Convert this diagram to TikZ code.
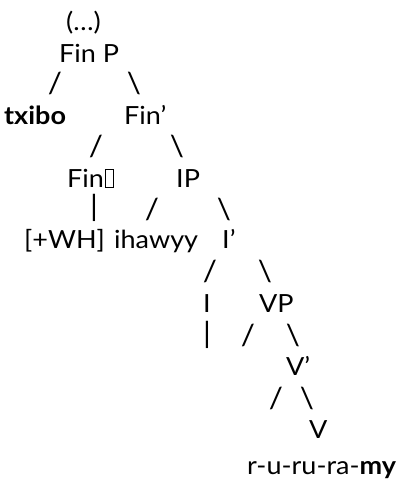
\documentclass[tikz,border=0pt]{standalone}
\usepackage{fontspec}
\setmainfont{Lato}[FakeStretch=1.08]
\newcommand{\tofubox}{{\fboxsep=0pt\fboxrule=0.7pt\hspace{1pt}\fbox{\rule{0pt}{17.5pt}\hspace{7.5pt}}}}
\begin{document}
\begin{tikzpicture}[x=1pt,y=-1pt,
  every node/.style={font=\fontsize{25}{30}\selectfont, inner sep=0pt, text=black},
  lbl/.style={anchor=base west},
  br/.style={anchor=center, font=\fontsize{29}{32}\selectfont}]
\useasboundingbox (0,0) rectangle (398,480);
% row 0
\node[lbl] (top) at (66,30) {(…)};
% row 1
\node[lbl] (finp) at (59,62) {Fin P};
\node[br] (s1) at (55,83.5) {/};
\node[br] (b1) at (134,83.5) {\textbackslash};
% row 2
\node[lbl] (txibo) at (4,124) {\textbf{txibo}};
\node[lbl] (finbar) at (124,124) {Fin’};
\node[br] (s2) at (96,146) {/};
\node[br] (b2) at (177,146) {\textbackslash};
% row 3
\node[lbl] (fin) at (67,187) {Fin\tofubox};
\node[lbl] (ip) at (176,187) {IP};
\node[br] (p3) at (94,208) {|};
\node[br] (s3) at (152,209) {/};
\node[br] (b3) at (224,209) {\textbackslash};
% row 4
\node[lbl] (wh) at (24,248) {[+WH]};
\node[lbl] (ihawyy) at (114,248) {ihawyy};
\node[lbl] (ibar) at (222,248) {I’};
\node[br] (s4) at (210,271) {/};
\node[br] (b4) at (265,271) {\textbackslash};
% row 5
\node[lbl] (i) at (203,312) {I};
\node[lbl] (vp) at (259,312) {VP};
\node[br] (p5) at (207,335) {|};
\node[br] (s5) at (248,335) {/};
\node[br] (b5) at (293,335) {\textbackslash};
% row 6
\node[lbl] (vbar) at (286,375) {V’};
\node[br] (s6) at (276,398) {/};
\node[br] (b6) at (307,398) {\textbackslash};
% row 7
\node[lbl] (v) at (309,438) {V};
\node[lbl] (verb) at (247,474) {r-u-ru-ra-\textbf{my}};
\end{tikzpicture}
\end{document}
